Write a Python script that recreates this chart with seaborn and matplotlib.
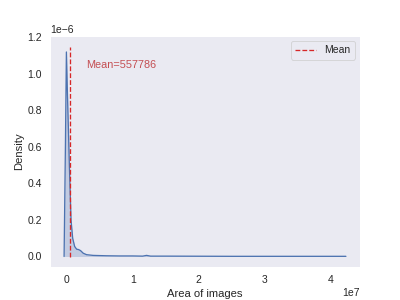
import numpy as np
import pandas as pd
import seaborn as sns
import matplotlib
matplotlib.use("Agg")
import matplotlib.pyplot as plt

# density curve of image areas (x in pixels^2)
area = [-0.04e7, -0.02e7, -0.005e7, 0.01e7, 0.04e7, 0.065e7, 0.09e7, 0.12e7,
        0.15e7, 0.18e7, 0.21e7, 0.25e7, 0.3e7, 0.4e7, 0.6e7, 0.8e7, 1.0e7,
        1.15e7, 1.21e7, 1.27e7, 1.5e7, 2.0e7, 2.5e7, 3.0e7, 3.5e7, 4.0e7, 4.23e7]
density = [0.0, 0.6e-6, 1.12e-6, 0.9e-6, 0.5e-6, 0.2e-6, 0.1e-6, 0.055e-6,
           0.04e-6, 0.038e-6, 0.032e-6, 0.018e-6, 0.01e-6, 0.006e-6, 0.004e-6,
           0.003e-6, 0.003e-6, 0.002e-6, 0.006e-6, 0.002e-6, 0.002e-6, 0.0015e-6,
           0.001e-6, 0.001e-6, 0.001e-6, 0.001e-6, 0.001e-6]
mean_area = 557786

df = pd.DataFrame({"area": area, "density": density})

sns.set_theme(style="dark")
plt.rcParams["font.family"] = ["Liberation Sans", "DejaVu Sans"]
fig, ax = plt.subplots(figsize=(6.4, 4.8), dpi=62.5)

sns.lineplot(data=df, x="area", y="density", ax=ax, color="b", linewidth=1.5)
ax.fill_between(df["area"], df["density"], color="b", alpha=0.25, linewidth=0)

ax.vlines(mean_area, 0, 1.15e-6, colors="#d62728", linestyles="--", label="Mean")
ax.text(0.3e7, 1.03e-6, f"Mean={mean_area}", color="r", fontsize=12.5)

ax.set_xlabel("Area of images", fontsize=13)
ax.set_ylabel("Density", fontsize=13)
ax.tick_params(labelsize=12)
ax.xaxis.get_offset_text().set_fontsize(12)
ax.yaxis.get_offset_text().set_fontsize(12)
ax.legend(loc="upper right", fontsize=12)

fig.savefig("out.png")
